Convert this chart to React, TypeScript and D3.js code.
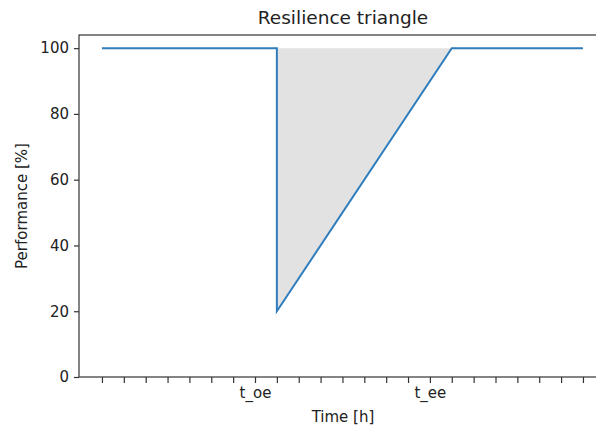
import React, { useEffect, useRef } from 'react';
import * as d3 from 'd3';

// time steps shown as ticks on the x axis
const timeSteps: number[] = d3.range(0, 23);
// only two of the ticks carry a label
const tickLabels: { [t: number]: string } = { 7: 't_oe', 15: 't_ee' };

// the performance curve
const curveTimes: number[] = [0, 8, 8, 16, 22];
const curvePerformance: number[] = [100, 100, 20, 100, 100];

// the shaded triangle (lost performance)
const lossTimes: number[] = [8, 8, 16];
const lossPerformance: number[] = [100, 20, 100];

const performanceTicks: number[] = [0, 20, 40, 60, 80, 100];

const W = 596;
const H = 431;
const margin = { left: 79, top: 35, right: 607, bottom: 377 };
const font = '"DejaVu Sans", sans-serif';

const App = () => {
    const ref = useRef<SVGSVGElement>(null);

    useEffect(() => {
        const svg = d3.select(ref.current);
        svg.selectAll('*').remove();

        const x = d3.scaleLinear().domain([-1.05, 23.1]).range([margin.left, margin.right]);
        const y = d3.scaleLinear().domain([0, 104]).range([margin.bottom, margin.top]);

        // shaded area
        const lossPts = lossTimes.map((t, i) => [x(t), y(lossPerformance[i])] as [number, number]);
        svg.append('path')
            .attr('d', d3.line()(lossPts) + 'Z')
            .attr('fill', '#e2e2e2')
            .attr('stroke', 'none');

        // curve
        const curvePts = curveTimes.map((t, i) => [x(t), y(curvePerformance[i])] as [number, number]);
        svg.append('path')
            .attr('d', d3.line()(curvePts))
            .attr('fill', 'none')
            .attr('stroke', '#2f7dbd')
            .attr('stroke-width', 2)
            .attr('stroke-linejoin', 'miter');

        // frame
        svg.append('rect')
            .attr('x', margin.left)
            .attr('y', margin.top)
            .attr('width', margin.right - margin.left)
            .attr('height', margin.bottom - margin.top)
            .attr('fill', 'none')
            .attr('stroke', '#333')
            .attr('stroke-width', 1.2);

        // y axis
        const yAxis = svg.append('g')
            .attr('transform', 'translate(' + margin.left + ',0)')
            .call(d3.axisLeft(y).tickValues(performanceTicks).tickSize(5).tickPadding(5));
        yAxis.select('.domain').remove();

        // x axis
        const xAxis = svg.append('g')
            .attr('transform', 'translate(0,' + margin.bottom + ')')
            .call(d3.axisBottom(x)
                .tickValues(timeSteps)
                .tickSize(6)
                .tickPadding(4)
                .tickFormat(d => tickLabels[d as number] || ''));
        xAxis.select('.domain').remove();

        svg.selectAll('.tick line').attr('stroke', '#333').attr('stroke-width', 1.2);
        svg.selectAll('.tick text')
            .attr('fill', '#222')
            .style('font-family', font)
            .style('font-size', '15px');

        svg.append('text')
            .attr('x', (margin.left + margin.right) / 2)
            .attr('y', 24)
            .attr('text-anchor', 'middle')
            .style('font-family', font)
            .style('font-size', '18.5px')
            .attr('fill', '#222')
            .text('Resilience triangle');

        svg.append('text')
            .attr('x', (margin.left + margin.right) / 2)
            .attr('y', 422)
            .attr('text-anchor', 'middle')
            .style('font-family', font)
            .style('font-size', '15px')
            .attr('fill', '#222')
            .text('Time [h]');

        svg.append('text')
            .attr('transform', 'translate(27,' + (margin.top + margin.bottom) / 2 + ') rotate(-90)')
            .attr('text-anchor', 'middle')
            .style('font-family', font)
            .style('font-size', '15px')
            .attr('fill', '#222')
            .text('Performance [%]');
    }, []);

    return (
        <svg ref={ref} width={W} height={H}
            style={{ position: 'absolute', left: 0, top: 0, background: '#fff' }} />
    );
};

export default App;
